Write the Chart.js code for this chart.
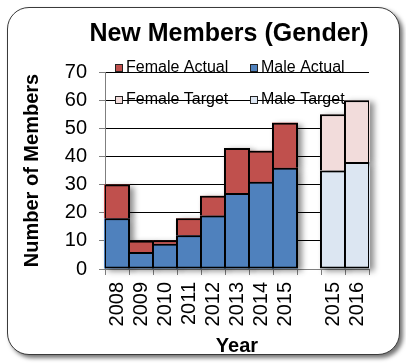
<!DOCTYPE html>
<html>
<head>
<meta charset="utf-8">
<script src="https://cdn.jsdelivr.net/npm/chart.js@4.4.1/dist/chart.umd.min.js"></script>
<style>
  html, body { margin: 0; padding: 0; background: #fff; }
  #frame {
    position: absolute; left: 7px; top: 7px; width: 393px; height: 348px;
    box-sizing: border-box; border: 1px solid #3a3a3a; border-radius: 22px;
    box-shadow: 3px 3px 4px rgba(0, 0, 0, 0.55); background: #fff;
  }
  #wrap { position: absolute; left: 0; top: 0; width: 406px; height: 363px; }
</style>
</head>
<body>
<div id="frame"></div>
<div id="wrap"><canvas id="membersChart"></canvas></div>
<script>
// Years (empty slot keeps the targets apart from the actuals)
const years = ['2008', '2009', '2010', '2011', '2012', '2013', '2014', '2015', '', '2015', '2016'];

const maleActual   = [18, 6, 9, 12, 19, 27, 31, 36, null, null, null];
const femaleActual = [12, 4, 1, 6, 7, 16, 11, 16, null, null, null];
const maleTarget   = [null, null, null, null, null, null, null, null, null, 35, 38];
const femaleTarget = [null, null, null, null, null, null, null, null, null, 20, 22];

const yTicks = [0, 10, 20, 30, 40, 50, 60, 70];

const legendOrder = ['Female Actual', 'Male Actual', 'Female Target', 'Male Target'];

const FONT = "'Liberation Sans', Arial, Helvetica, sans-serif";
const colors = {
    maleActual: '#4F81BD',
    femaleActual: '#C0504D',
    maleTarget: '#DCE6F2',
    femaleTarget: '#F2DCDB'
};
const axisGrey = '#7f7f7f';

// soft drop shadow behind the bars (drawn first, bars paint over it)
const barShadow = {
    id: 'barShadow',
    beforeDatasetsDraw(chart) {
        const ctx = chart.ctx;
        ctx.save();
        ctx.shadowColor = 'rgba(0, 0, 0, 0.45)';
        ctx.shadowBlur = 6;
        ctx.shadowOffsetX = 4;
        ctx.shadowOffsetY = 2;
        chart.getSortedVisibleDatasetMetas().forEach(meta => {
            const ds = chart.data.datasets[meta.index];
            meta.data.forEach((bar, i) => {
                if (ds.data[i] == null) return;
                const { x, y, base, width } = bar.getProps(['x', 'y', 'base', 'width']);
                ctx.fillStyle = ds.backgroundColor;
                ctx.fillRect(x - width / 2, y, width, base - y);
            });
        });
        ctx.restore();
    }
};

// title + two-column legend sitting over the top of the plot
const chartText = {
    id: 'chartText',
    afterDraw(chart) {
        const ctx = chart.ctx;
        ctx.save();
        ctx.fillStyle = '#000';
        ctx.textBaseline = 'middle';
        ctx.textAlign = 'center';
        ctx.font = `bold 25px ${FONT}`;
        ctx.fillText('New Members (Gender)', 229, 34);

        const colX = [115, 250];
        const rowY = [68, 100];
        ctx.font = `16px ${FONT}`;
        ctx.textAlign = 'left';
        legendOrder.forEach((label, idx) => {
            const ds = chart.data.datasets.find(d => d.label === label);
            const bx = colX[idx % 2];
            const by = rowY[Math.floor(idx / 2)];
            ctx.fillStyle = ds.backgroundColor;
            ctx.fillRect(bx, by - 4, 8, 8);
            ctx.strokeStyle = '#222';
            ctx.lineWidth = 1;
            ctx.strokeRect(bx + 0.5, by - 3.5, 7, 7);
            ctx.fillStyle = '#000';
            ctx.fillText(label, bx + 11, by);
        });
        ctx.restore();
    }
};

const barStyle = {
    borderColor: '#000',
    borderWidth: 2,
    barPercentage: 1.085,
    categoryPercentage: 1
};

const config = {
    type: 'bar',
    data: {
        labels: years,
        datasets: [
            { label: 'Male Actual', data: maleActual, backgroundColor: colors.maleActual, borderSkipped: false, ...barStyle },
            { label: 'Female Actual', data: femaleActual, backgroundColor: colors.femaleActual, borderSkipped: 'start', ...barStyle },
            { label: 'Male Target', data: maleTarget, backgroundColor: colors.maleTarget, borderSkipped: false, ...barStyle },
            { label: 'Female Target', data: femaleTarget, backgroundColor: colors.femaleTarget, borderSkipped: 'start', ...barStyle }
        ]
    },
    options: {
        responsive: true,
        maintainAspectRatio: false,
        animation: false,
        layout: { padding: { top: 72, left: 0, right: 37, bottom: 1 } },
        plugins: {
            legend: { display: false },
            title: { display: false },
            tooltip: { enabled: false }
        },
        scales: {
            x: {
                stacked: true,
                grid: {
                    display: true,
                    offset: true,
                    drawOnChartArea: false,
                    drawTicks: true,
                    tickLength: 6,
                    tickColor: axisGrey
                },
                border: { color: axisGrey, width: 1 },
                ticks: {
                    autoSkip: false,
                    minRotation: 90,
                    maxRotation: 90,
                    padding: 7,
                    color: '#000',
                    font: { family: FONT, size: 20 }
                },
                title: {
                    display: true,
                    text: 'Year',
                    color: '#000',
                    font: { family: FONT, size: 20, weight: 'bold' },
                    padding: { top: 0, bottom: 4 }
                },
                afterFit(scale) { scale.height = 93; }
            },
            y: {
                stacked: true,
                min: yTicks[0],
                max: yTicks[yTicks.length - 1],
                ticks: {
                    stepSize: yTicks[1] - yTicks[0],
                    padding: 12,
                    color: '#000',
                    font: { family: FONT, size: 20 }
                },
                grid: {
                    color: '#000',
                    lineWidth: 1,
                    drawTicks: true,
                    tickLength: 6,
                    tickColor: axisGrey
                },
                border: { color: axisGrey, width: 1 },
                title: {
                    display: true,
                    text: 'Number of Members',
                    color: '#000',
                    font: { family: FONT, size: 20, weight: 'bold' },
                    padding: { top: 20, bottom: 0 }
                },
                afterFit(scale) { scale.width = 105; }
            }
        }
    },
    plugins: [barShadow, chartText]
};

new Chart(document.getElementById('membersChart'), config);
</script>
</body>
</html>
